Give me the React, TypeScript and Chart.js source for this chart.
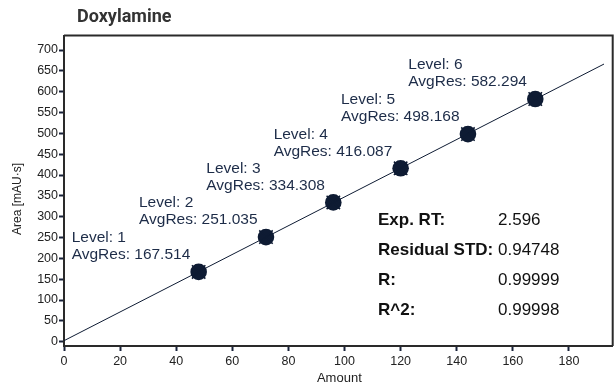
import React, { useEffect, useRef } from "react";
import { Chart, registerables } from "chart.js";

Chart.register(...registerables);

// Calibration levels for Doxylamine
const levels = [1, 2, 3, 4, 5, 6];
const amounts = [48, 72, 96, 120, 144, 168];
const avgRes = [167.514, 251.035, 334.308, 416.087, 498.168, 582.294];

// Extent of the drawn calibration line along the amount axis
const fitRange = [0, 192.5];

// Summary statistics shown in the lower right
const statLabels = ["Exp. RT:", "Residual STD:", "R:", "R^2:"];
const statValues = ["2.596", "0.94748", "0.99999", "0.99998"];

const xTicks = [0, 20, 40, 60, 80, 100, 120, 140, 160, 180];
const yTicks = [0, 50, 100, 150, 200, 250, 300, 350, 400, 450, 500, 550, 600, 650, 700];

const NAVY = "#0e1b33";
const LABEL = "#1d2c48";
const AXIS = "#2a2a2a";
const TICK = "#18223a";
const SANS = "'Liberation Sans', Arial, sans-serif";

// least-squares fit through the calibration points
function linearFit(xs: number[], ys: number[]) {
  const n = xs.length;
  const mx = xs.reduce((a, b) => a + b, 0) / n;
  const my = ys.reduce((a, b) => a + b, 0) / n;
  let sxy = 0;
  let sxx = 0;
  for (let i = 0; i < n; i++) {
    sxy += (xs[i] - mx) * (ys[i] - my);
    sxx += (xs[i] - mx) * (xs[i] - mx);
  }
  const slope = sxy / sxx;
  return { slope, intercept: my - slope * mx };
}

export default function App() {
  const canvasRef = useRef<HTMLCanvasElement | null>(null);

  useEffect(() => {
    const canvas = canvasRef.current;
    if (!canvas) return;
    const fit = linearFit(amounts, avgRes);
    const lineData = fitRange.map((x) => ({ x, y: fit.intercept + fit.slope * x }));
    const points = amounts.map((x, i) => ({ x, y: avgRes[i] }));

    const decorations = {
      id: "decorations",
      afterDatasetsDraw(chart: any) {
        const { ctx, chartArea, scales } = chart;
        const xs = scales.x;
        const ys = scales.y;
        ctx.save();

        // frame on top and right
        ctx.strokeStyle = AXIS;
        ctx.lineWidth = 2;
        ctx.beginPath();
        ctx.moveTo(chartArea.left, chartArea.top);
        ctx.lineTo(chartArea.right, chartArea.top);
        ctx.lineTo(chartArea.right, chartArea.bottom);
        ctx.stroke();

        // chart title
        ctx.fillStyle = "#333333";
        ctx.font = "bold 18px Roboto, sans-serif";
        ctx.textAlign = "left";
        ctx.textBaseline = "alphabetic";
        ctx.fillText("Doxylamine", 77, 22);

        // axis titles
        ctx.fillStyle = "#222222";
        ctx.font = `13px ${SANS}`;
        ctx.textAlign = "center";
        ctx.textBaseline = "middle";
        ctx.fillText("Amount", (chartArea.left + chartArea.right) / 2 + 1, 378);
        ctx.save();
        ctx.translate(18, 199);
        ctx.rotate(-Math.PI / 2);
        ctx.font = `12px ${SANS}`;
        ctx.fillText("Area [mAU\u00b7s]", 0, 0);
        ctx.restore();

        // level labels
        ctx.fillStyle = LABEL;
        ctx.font = `15.5px ${SANS}`;
        ctx.textAlign = "left";
        amounts.forEach((a, i) => {
          const px = xs.getPixelForValue(a);
          const py = ys.getPixelForValue(avgRes[i]);
          ctx.fillText(`Level: ${levels[i]}`, px - 127, py - 34);
          ctx.fillText(`AvgRes: ${avgRes[i].toFixed(3)}`, px - 127, py - 17);
        });

        // statistics block
        ctx.fillStyle = "#111111";
        statLabels.forEach((lab, i) => {
          const y = 220 + i * 30;
          ctx.font = `bold 17px ${SANS}`;
          ctx.fillText(lab, 378, y);
          ctx.font = `17px ${SANS}`;
          ctx.fillText(statValues[i], 498, y);
        });
        ctx.restore();
      },
    };

    const chart = new Chart(canvas, {
      type: "scatter",
      data: {
        datasets: [
          {
            type: "line",
            data: lineData,
            borderColor: NAVY,
            borderWidth: 1,
            pointRadius: 0,
            fill: false,
          } as any,
          {
            data: points,
            pointStyle: "crossRot",
            pointRadius: 9.5,
            borderColor: NAVY,
            borderWidth: 1.5,
            backgroundColor: NAVY,
          },
          {
            data: points,
            pointStyle: "circle",
            pointRadius: 8.3,
            borderWidth: 0,
            backgroundColor: NAVY,
          },
        ],
      },
      options: {
        animation: false,
        responsive: false,
        events: [],
        layout: { autoPadding: false, padding: { top: 35.5, right: 3.3, left: 0, bottom: 0 } },
        plugins: {
          legend: { display: false },
          tooltip: { enabled: false },
          title: { display: false },
        },
        scales: {
          x: {
            type: "linear",
            min: 0,
            max: 195.6,
            afterBuildTicks: (s: any) => {
              s.ticks = xTicks.map((v) => ({ value: v }));
            },
            afterFit: (s: any) => {
              s.height = 41;
              s.paddingLeft = 0;
              s.paddingRight = 0;
            },
            ticks: {
              color: "#222222",
              font: { family: SANS, size: 12.5 },
              padding: 3,
              maxRotation: 0,
            },
            grid: {
              drawOnChartArea: false,
              drawTicks: true,
              tickLength: 5,
              tickColor: TICK,
              tickWidth: 2,
            },
            border: { display: true, color: AXIS, width: 2 },
          },
          y: {
            type: "linear",
            min: -10.3,
            max: 734.8,
            afterBuildTicks: (s: any) => {
              s.ticks = yTicks.map((v) => ({ value: v }));
            },
            afterFit: (s: any) => {
              s.width = 64;
              s.paddingTop = 0;
              s.paddingBottom = 0;
            },
            ticks: {
              color: "#222222",
              font: { family: SANS, size: 12.5 },
              padding: 1,
            },
            grid: {
              drawOnChartArea: false,
              drawTicks: true,
              tickLength: 5,
              tickColor: TICK,
              tickWidth: 2,
            },
            border: { display: true, color: AXIS, width: 2 },
          },
        },
      },
      plugins: [decorations],
    });

    return () => chart.destroy();
  }, []);

  return (
    <div style={{ position: "fixed", left: 0, top: 0, width: 616, height: 387, background: "#ffffff" }}>
      <canvas ref={canvasRef} width={616} height={387} style={{ display: "block" }} />
    </div>
  );
}
